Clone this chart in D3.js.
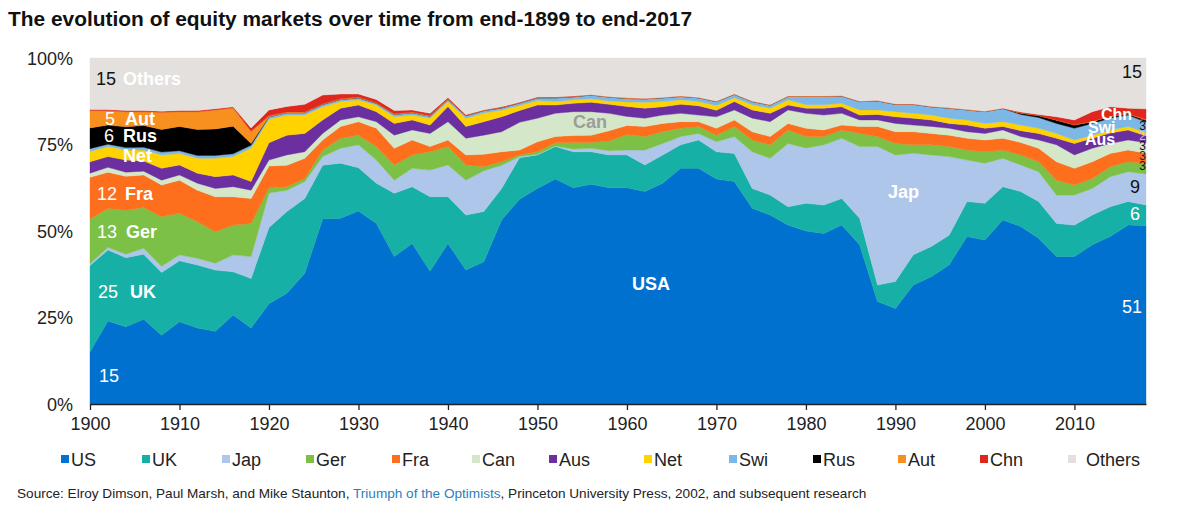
<!DOCTYPE html>
<html lang="en">
<head>
<meta charset="UTF-8">
<title>Equity markets 1899-2017</title>
<style>
  body { margin: 0; background: #fff; }
  svg { display: block; font-family: "Liberation Sans", Arial, sans-serif; }
</style>
</head>
<body>
<svg id="chart" width="1200" height="511"></svg>
<script src="https://d3js.org/d3.v7.min.js"></script>
<script>
// end-of-year market shares (%), every two years
const years = [1900,1902,1904,1906,1908,1910,1912,1914,1916,1918,
               1920,1922,1924,1926,1928,1930,1932,1934,1936,1938,
               1940,1942,1944,1946,1948,1950,1952,1954,1956,1958,
               1960,1962,1964,1966,1968,1970,1972,1974,1976,1978,
               1980,1982,1984,1986,1988,1990,1992,1994,1996,1998,
               2000,2002,2004,2006,2008,2010,2012,2014,2016,2018];

const us = [15,24,22.3,24.5,19.9,23.8,22,21,25.7,22,
            29,32,37.8,53.5,53.7,55.8,52.2,42.6,46.4,38.4,
            46.4,38.7,41.1,53.2,59.2,62.3,65,62.5,63.5,62.5,
            62.5,61.4,63.8,68.1,68.1,65,64.3,56.6,54.6,51.7,
            50,49.3,51.7,46,29.6,27.6,34.4,36.8,40.2,48.4,
            47.4,53.2,51.3,47.9,42.6,42.6,46,48.4,51.7,51.5];
const uk = [25,20.5,20,18.8,18.1,17.6,18.2,17.7,12.5,14.3,
            22,23.6,21.6,15.5,15.9,12.5,11.6,18.3,16.4,21.5,
            13.5,15.9,14.5,9.1,12,9.7,9.4,10.4,9.4,9.5,
            9.5,7.7,8.2,6.8,8.2,7.9,8.1,5.7,5.8,5.3,
            8,8.2,7.7,7.7,4.8,7.8,8.7,8.7,8.6,10.1,
            10.6,9.6,10.1,10.6,9.6,9.1,8.6,8.6,6.8,6];
const jap = [0.5,0.8,1,1.7,1.8,1.7,1.9,2,4.9,6.3,
             10,6.2,4.9,2.5,4.3,6.6,6.7,3.8,5.3,7.7,
             9.2,10.1,11.8,6.7,0.3,0.2,0.2,0.8,1,1.2,
             1.4,4.3,3.3,2.4,1.9,2.9,4.9,10.6,10.6,18.3,
             16,17.4,17.4,20.7,40,36.6,29.4,26.5,22.7,12,
             11.6,8.2,7.7,8.6,8.2,8.7,7.7,8.7,8.6,9];
const ger = [13,11.2,12.7,11.8,14.3,12,10.6,9.1,8.6,9.6,
             1.5,1,0.9,1.9,2.9,2.8,3.9,4.4,3.9,5.3,
             5.3,4.4,1.2,1,0.5,0.7,0.9,1.9,1.7,2.8,
             4.5,3.9,3.4,2.4,2,1.9,2.9,3.4,3.9,3.9,
             3.3,2.4,2.4,3.8,2.9,3.3,2.4,2.9,2.9,2.9,
             3.3,2.4,2.9,2.9,4.3,2.9,2.9,2.9,2.9,3];
const fra = [12,10.5,9.8,9.4,9.2,9.6,9.1,10.1,8.2,7.2,
             6.3,6.2,5.8,2.9,3.4,3.9,5.3,4.8,4.3,1.5,
             1.9,2.9,3.6,2.9,1.4,2.9,1.8,2,2.1,3,
             2.6,2.9,2.4,1.9,1.4,2,1.9,2.4,2.4,1.9,
             2.4,1.9,1.4,2,2.9,3.4,3.8,3.3,3.3,3.4,
             3.4,3.4,3.6,3.9,5.3,4.8,4.8,3.8,3.4,3];
const can = [1.2,1.4,1.2,1.1,1.4,1.5,2,2.4,2.9,2.4,
             1.7,3,1.9,1.9,1.9,1.4,1.9,3.8,2.9,3.8,
             5.3,4.8,5.5,5.8,8,6.8,6.7,6.9,6.8,5,
             2.6,2.4,2.4,2.4,1.9,3.3,2.9,3.9,4.3,3.9,
             4.3,4.3,3.4,1.9,1.9,2.4,1.9,2,2,1.9,
             1.9,2.4,1.7,2.4,4.9,3.9,3.9,2.9,2.9,3];
const aus = [3.3,3.1,3.5,2.9,3.4,2.9,2.9,3.4,3.4,2.5,
             5,5.7,5.3,3.9,3.4,3.4,2.9,3.4,2.9,2.4,
             4.4,3.4,3.9,4.3,3.4,3.8,2.4,2.4,2.7,2.6,
             2.9,2.9,2.4,2.6,2.7,1.9,2.4,2.4,2.4,1.4,
             1.5,2,1.9,1.4,1.6,1.9,2,1.9,1.4,1.9,
             1.5,1,1.7,1.9,1.9,3.3,2.9,3,2.9,2];
const net = [3,2.9,2.9,3.2,3.9,3.3,4.3,5.3,5.3,9.7,
             6.8,5.8,5.3,3.8,1.9,1.5,1.9,1.9,1.4,2,
             1.4,2.4,2.5,2,1.5,1.3,1,1,1,1,
             1.3,1.7,1.5,1.3,1.2,1.4,1.1,1.5,1.5,1.5,
             1,1,1,1.5,1.3,1.5,1.4,1.4,1.5,1.5,
             1.4,1.4,1.6,1.5,1.4,1,0.9,0.9,1,1];
const swi = [0.8,0.7,0.7,0.8,0.8,0.8,0.8,0.8,0.8,0.8,
             0.7,0.7,0.7,0.7,0.6,0.6,0.5,0.7,0.7,0.6,
             0.6,0.7,0.7,0.6,0.7,0.8,1.1,0.9,1.1,1.1,
             1,1,1.1,1,1.1,1.1,1,0.9,0.9,1,
             2.4,2.4,2.1,2.4,2.6,2.1,2.6,2.4,2.9,2.9,
             3.4,3.8,3.1,3.1,2.9,3.4,3.4,3.4,3.3,3];
const rus = [6,5.5,6,6.3,6.5,7,7.5,7.7,8,0.5,
             0,0,0,0,0,0,0,0,0,0,
             0,0,0,0,0,0,0,0,0,0,
             0,0,0,0,0,0,0,0,0,0,
             0,0,0,0,0,0,0,0,0,0,
             0,0,0.3,0.5,0.9,0.9,0.5,0.5,0.3,0.5];
const aut = [5,4.2,4.4,4,5,4.3,5.2,5.5,5.3,3.5,
             0.3,0.2,0.2,0.2,0.2,0.2,0.2,0.2,0.2,0.2,
             0.2,0.1,0.1,0.1,0.1,0.1,0.1,0.1,0.1,0.1,
             0.2,0.1,0.1,0.1,0.1,0.1,0.1,0.1,0.1,0.1,
             0.1,0.1,0.1,0.1,0.1,0.1,0.1,0.1,0.1,0.1,
             0.1,0.1,0.1,0.1,0.1,0.1,0.1,0.1,0.1,0.3];
const chn = [0.3,0.3,0.3,0.3,0.3,0.3,0.3,0.3,0.3,1,
             1.7,1.6,2.2,2.5,1.4,0.9,0.9,0.9,0.6,0.6,
             0.4,0.2,0.1,0.2,0.1,0.1,0.1,0.1,0,0,
             0,0,0,0,0,0,0,0,0,0,
             0,0,0,0,0,0,0,0,0,0,
             0,0,0.3,0.3,0.9,1.4,2.8,2.7,1.6,3];
const others = [14.9,14.9,15.2,15.2,15.4,15.2,15.2,14.7,14.1,20.2,
                15,14,13.4,10.7,10.4,10.4,12,15.2,15,16,
                11.4,16.4,15,14.1,12.8,11.3,11.3,11,10.6,11.2,
                11.5,11.7,11.4,11,11.4,12.5,10.4,12.5,13.5,11,
                11,11,10.9,12.5,12.3,13.3,13.3,14,14.4,14.9,
                15.4,14.5,15.6,16.3,17,17.9,15.5,14.1,14.5,14.7];

const seriesNames = ["US","UK","Jap","Ger","Fra","Can","Aus","Net","Swi","Rus","Aut","Chn","Others"];
const seriesValues = [us, uk, jap, ger, fra, can, aus, net, swi, rus, aut, chn, others];
const colors = ["#0071ce","#17b0a7","#adc6e9","#7cc045","#fd6f1d","#d5e7c9",
                "#6b2fa0","#ffd200","#7db7e5","#000000","#f7901e","#e0261d","#e3e0de"];
const xTicks = [1900,1910,1920,1930,1940,1950,1960,1970,1980,1990,2000,2010];
const yTicks = [0, 0.25, 0.5, 0.75, 1];

// table for d3.stack
const rows = years.map((yr, i) => {
    const r = { year: yr };
    seriesNames.forEach((n, k) => { r[n] = seriesValues[k][i]; });
    return r;
});

const svg = d3.select("#chart");
const plotLeft = 90, plotRight = 1146, plotTop = 58, plotBottom = 404;

const x = d3.scaleLinear().domain([1900, 2018]).range([plotLeft, plotRight]);
const y = d3.scaleLinear().domain([0, 1]).range([plotBottom, plotTop]);

const stack = d3.stack()
    .keys(seriesNames)
    .offset(d3.stackOffsetExpand);
const layers = stack(rows);

const area = d3.area()
    .x(d => x(d.data.year))
    .y0(d => y(d[0]))
    .y1(d => y(d[1]));

svg.append("g")
    .selectAll("path")
    .data(layers)
    .join("path")
    .attr("d", area)
    .attr("fill", (d, i) => colors[i])
    .attr("stroke", (d, i) => colors[i])
    .attr("stroke-width", 0.4);

// title
svg.append("text")
    .attr("x", 8).attr("y", 26)
    .attr("font-size", 20).attr("font-weight", "bold")
    .attr("textLength", 684).attr("lengthAdjust", "spacingAndGlyphs")
    .attr("fill", "#111")
    .text("The evolution of equity markets over time from end-1899 to end-2017");

// y axis labels (no line)
svg.append("g").selectAll("text")
    .data(yTicks)
    .join("text")
    .attr("x", 73)
    .attr("y", d => y(d) + 6.5)
    .attr("text-anchor", "end")
    .attr("font-size", 18)
    .attr("fill", "#222")
    .text(d3.format(".0%"));

// x axis
const xAxis = svg.append("g")
    .attr("transform", `translate(0,${plotBottom})`)
    .call(d3.axisBottom(x).tickValues(xTicks).tickFormat(d3.format("d"))
        .tickSize(6).tickPadding(7).tickSizeOuter(0));
xAxis.select(".domain").attr("stroke", "#222").attr("stroke-width", 1.3);
xAxis.selectAll(".tick line").attr("stroke", "#222").attr("stroke-width", 1.3);
xAxis.selectAll(".tick text")
    .attr("font-size", 18)
    .attr("font-family", "Liberation Sans, Arial, sans-serif")
    .attr("fill", "#222");

// in-chart annotations
const notes = [
    { t: "15", x: 116, y: 85, a: "end", c: "#111" },
    { t: "Others", x: 123, y: 85, b: true },
    { t: "5", x: 115, y: 125, a: "end" },
    { t: "Aut", x: 125, y: 125, b: true },
    { t: "6", x: 114, y: 142, a: "end" },
    { t: "Rus", x: 123, y: 142, b: true },
    { t: "Net", x: 123, y: 162, b: true },
    { t: "12", x: 117, y: 200, a: "end" },
    { t: "Fra", x: 125, y: 200, b: true },
    { t: "13", x: 117, y: 238, a: "end" },
    { t: "Ger", x: 126, y: 238, b: true },
    { t: "25", x: 118, y: 298, a: "end" },
    { t: "UK", x: 130, y: 298, b: true },
    { t: "15", x: 119, y: 382, a: "end" },
    { t: "Can", x: 573, y: 128, b: true, c: "#9c9c9c" },
    { t: "USA", x: 632, y: 290, b: true },
    { t: "Jap", x: 888, y: 198, b: true },
    { t: "15", x: 1142, y: 78, a: "end", c: "#111" },
    { t: "Chn", x: 1101, y: 120, b: true, s: 16 },
    { t: "Swi", x: 1088, y: 132.5, b: true, s: 16 },
    { t: "Aus", x: 1085, y: 145, b: true, s: 16 },
    { t: "9", x: 1140, y: 193, a: "end", c: "#111" },
    { t: "6", x: 1140, y: 220, a: "end" },
    { t: "51", x: 1142, y: 313, a: "end" }
];
svg.append("g").selectAll("text")
    .data(notes)
    .join("text")
    .attr("x", d => d.x).attr("y", d => d.y)
    .attr("text-anchor", d => d.a || "start")
    .attr("font-size", d => d.s || 18)
    .attr("font-weight", d => d.b ? "bold" : "normal")
    .attr("fill", d => d.c || "#fff")
    .text(d => d.t);

// small share figures on the right edge
const small = [
    { t: "3", y: 120, c: "#e0261d" },
    { t: "3", y: 130, c: "#111" },
    { t: "2", y: 140, c: "#c9b9ea" },
    { t: "3", y: 150, c: "#111" },
    { t: "3", y: 160, c: "#222" },
    { t: "3", y: 170, c: "#111" }
];
svg.append("g").selectAll("text")
    .data(small)
    .join("text")
    .attr("x", 1146).attr("y", d => d.y)
    .attr("text-anchor", "end")
    .attr("font-size", 12)
    .attr("fill", d => d.c)
    .text(d => d.t);

// legend
const legendX = [61,142,222,306,392,472,549,644,729,813,898,980,1068];
const leg = svg.append("g").selectAll("g")
    .data(seriesNames)
    .join("g")
    .attr("transform", (d, i) => `translate(${legendX[i]},455)`);
leg.append("rect")
    .attr("width", 8).attr("height", 8)
    .attr("fill", (d, i) => colors[i]);
leg.append("text")
    .attr("x", (d, i) => i === 12 ? 18 : 10)
    .attr("y", 11)
    .attr("font-size", 18)
    .attr("fill", "#222")
    .text(d => d);

// source line
const src = svg.append("text")
    .attr("x", 17).attr("y", 498)
    .attr("font-size", 13.6)
    .attr("fill", "#222");
src.append("tspan").text("Source: Elroy Dimson, Paul Marsh, and Mike Staunton, ");
src.append("tspan").attr("fill", "#2a7fc1").text("Triumph of the Optimists");
src.append("tspan").text(", Princeton University Press, 2002, and subsequent research");
</script>
</body>
</html>
